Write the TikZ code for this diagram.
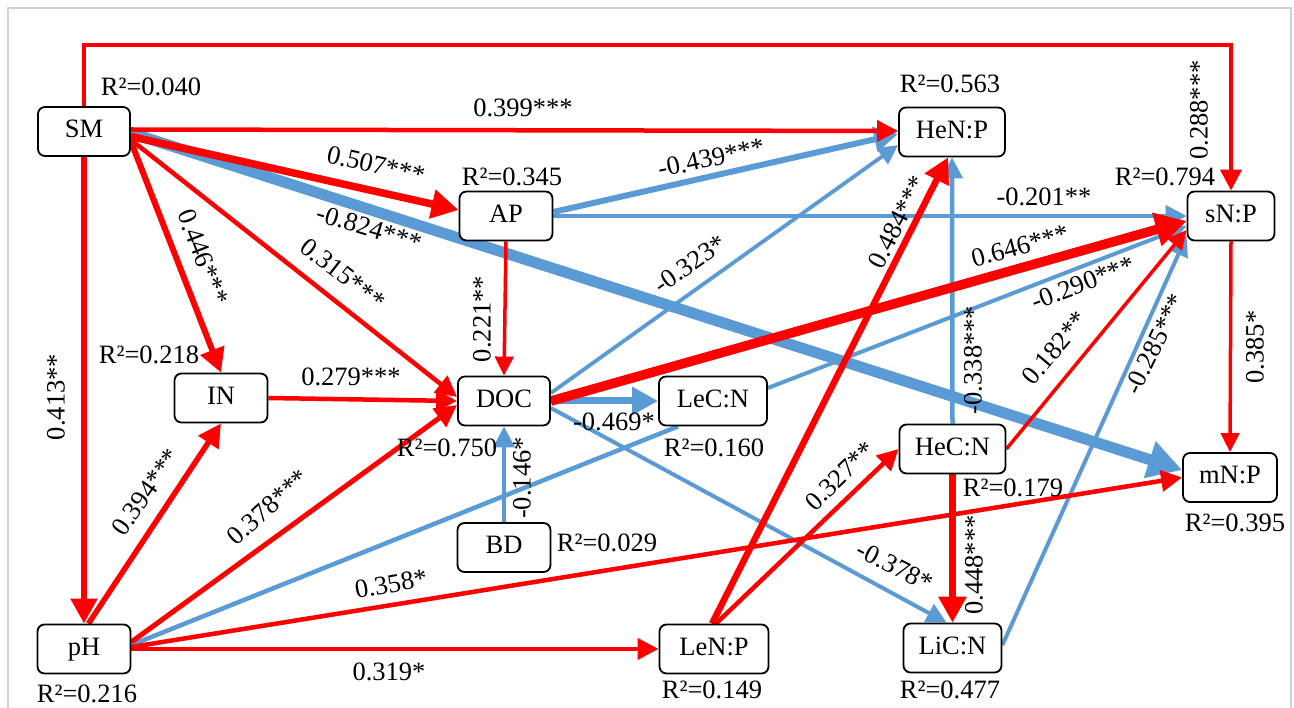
\documentclass[tikz,border=0pt]{standalone}
\usepackage{fontspec}
\setmainfont{Liberation Serif}
\usetikzlibrary{arrows.meta,calc}
\definecolor{pr}{RGB}{255,0,0}
\definecolor{pb}{RGB}{91,155,213}
\definecolor{frm}{RGB}{210,210,210}
\pgfdeclarelayer{bg}
\pgfsetlayers{bg,main}
\begin{document}
\begin{tikzpicture}[x=1pt,y=-1pt,
  font=\fontsize{26.5}{30}\selectfont,
  box/.style={draw=black, line width=1.8pt, rounded corners=7pt, fill=white,
    minimum height=49pt, inner sep=0pt, text height=18pt, text depth=5pt},
  lab/.style={inner sep=0pt},
  tip/.style={-{Triangle[length=12pt 2, width=10pt 2.4]}},
  rl/.style={draw=pr, line width=#1, tip},
  bl/.style={draw=pb, line width=#1, tip},
  bn/.style={draw=pb, line width=#1},
]
\useasboundingbox (0,0) rectangle (1294,708);
\draw[frm, line width=1.2pt] (8,708) -- (8,8) -- (1291,8) -- (1291,708);

% nodes
\node[box, minimum width=92pt]  (SM)   at (84,131.5)  {SM};
\node[box, minimum width=93pt]  (AP)   at (506,216)   {AP};
\node[box, minimum width=106pt] (HeNP) at (952,132)   {HeN:P};
\node[box, minimum width=87pt]  (sNP)  at (1231,216)  {sN:P};
\node[box, minimum width=93pt]  (IN)   at (221,398)   {IN};
\node[box, minimum width=92pt]  (DOC)  at (504,401)   {DOC};
\node[box, minimum width=108pt] (LeCN) at (713,401)   {LeC:N};
\node[box, minimum width=106pt] (HeCN) at (952.5,449) {HeC:N};
\node[box, minimum width=94pt]  (mNP)  at (1230,477.5) {mN:P};
\node[box, minimum width=93pt]  (BD)   at (504,547.5) {BD};
\node[box, minimum width=93pt]  (pH)   at (84,649)    {pH};
\node[box, minimum width=109pt] (LeNP) at (714,649)   {LeN:P};
\node[box, minimum width=98pt]  (LiCN) at (952.5,648) {LiC:N};

\coordinate (topc) at (0,45);

\begin{pgfonlayer}{bg}
% blue connectors
\draw[bl=11pt] ([yshift=-1.5pt]SM.east) -- ([yshift=7.5pt]mNP.west);
\draw[bl=6pt] ([yshift=4pt]AP.east) -- ([yshift=-2pt]HeNP.west);
\draw[bl=4.5pt] (AP.east) -- (sNP.west);
\draw[bl=3.8pt] ([yshift=8pt]DOC.east) -- ([yshift=-13pt]HeNP.west);
\draw[bl=7pt] (DOC.east) -- (LeCN.west);
\draw[bl=4pt] ([yshift=-7pt]DOC.east) -- ([xshift=-6pt]LiCN.north);
\draw[bl=4.5pt] (BD.north) -- (DOC.south);
\draw[bl=4pt] ([yshift=13pt]LeCN.east) -- ([yshift=-10pt]sNP.west);
\draw[bl=4.5pt] (HeCN.north) -- (HeNP.south);
\draw[bl=4pt] ([yshift=3pt]LiCN.east) -- ([yshift=-20pt]sNP.west);
\draw[bn=4.5pt] ([yshift=4pt]pH.east) -- ([xshift=-35pt]LeCN.south);
% red connectors
\draw[rl=4.5pt] (SM.north) -- (SM.north |- topc) -| (sNP.north);
\draw[rl=4.5pt] ([yshift=2pt]SM.east) -- ([yshift=1pt]HeNP.west);
\draw[rl=7.5pt] ([yshift=-5pt]SM.east) -- ([yshift=6pt]AP.west);
\draw[rl=6pt] (SM.-12) -- (IN.north);
\draw[rl=4.5pt] (SM.-10) -- ([yshift=4pt]DOC.west);
\draw[rl=6.5pt] (SM.south) -- (pH.north);
\draw[rl=5.5pt] (pH.80) -- (IN.south);
\draw[rl=5pt] ([yshift=7pt]pH.east) -- ([yshift=-4pt]DOC.west);
\draw[rl=4.5pt] ([yshift=2pt]pH.east) -- (mNP.west);
\draw[rl=4.5pt] (pH.east) -- (LeNP.west);
\draw[rl=3.5pt] (AP.south) -- (DOC.north);
\draw[rl=4.5pt] (IN.east) -- (DOC.west);
\draw[rl=9.5pt] (DOC.east) -- ([yshift=-5pt]sNP.west);
\draw[rl=6.5pt] ([xshift=-2pt]LeNP.north) -- ([xshift=-4pt]HeNP.south);
\draw[rl=4.5pt] ([xshift=2pt]LeNP.north) -- (HeCN.west);
\draw[rl=3.5pt] (HeCN.east) -- ([yshift=-14pt]sNP.west);
\draw[rl=7pt] (HeCN.south) -- (LiCN.north);
\draw[rl=3.5pt] (sNP.south) -- (mNP.north);
\end{pgfonlayer}

% R^2 labels
\node[lab] (SMr)   at (151,87)   {R²=0.040};
\node[lab] (APr)   at (512,177)  {R²=0.345};
\node[lab] (HeNPr) at (950,84)   {R²=0.563};
\node[lab] (sNPr)  at (1165,177) {R²=0.794};
\node[lab] (INr)   at (149,355)  {R²=0.218};
\node[lab] (DOCr)  at (447,448)  {R²=0.750};
\node[lab] (LeCNr) at (714,448)  {R²=0.160};
\node[lab] (HeCNr) at (1013,488) {R²=0.179};
\node[lab] (mNPr)  at (1235,523) {R²=0.395};
\node[lab] (BDr)   at (607,543)  {R²=0.029};
\node[lab] (pHr)   at (87,694)   {R²=0.216};
\node[lab] (LeNPr) at (712,690)  {R²=0.149};
\node[lab] (LiCNr) at (950,690)  {R²=0.477};

% path coefficients
\node[lab, rotate=90]  (l1)  at (1199,110) {0.288***};
\node[lab]             (l2)  at (523,108)  {0.399***};
\node[lab, rotate=-13] (l3)  at (376,165)  {0.507***};
\node[lab, rotate=-17] (l4)  at (369,228)  {-0.824***};
\node[lab, rotate=-69] (l5)  at (203,257)  {0.446***};
\node[lab, rotate=-38] (l6)  at (343,274)  {0.315***};
\node[lab, rotate=90]  (l7)  at (56,397)   {0.413**};
\node[lab, rotate=55]  (l8)  at (146,492)  {0.394***};
\node[lab, rotate=42]  (l9)  at (268,507)  {0.378***};
\node[lab, rotate=10]  (l10) at (391,584)  {0.358*};
\node[lab]             (l11) at (389,672)  {0.319*};
\node[lab, rotate=12]  (l12) at (711,158)  {-0.439***};
\node[lab]             (l13) at (1044,197) {-0.201**};
\node[lab, rotate=90]  (l14) at (482,319)  {0.221**};
\node[lab]             (l15) at (351,377)  {0.279***};
\node[lab, rotate=35]  (l16) at (690,264)  {-0.323*};
\node[lab, rotate=15]  (l17) at (1020,246) {0.646***};
\node[lab]             (l18) at (614,422)  {-0.469*};
\node[lab, rotate=-27] (l19) at (895,566)  {-0.378*};
\node[lab, rotate=90]  (l20) at (522,478)  {-0.146*};
\node[lab, rotate=21]  (l21) at (1083,283) {-0.290***};
\node[lab, rotate=63]  (l22) at (897,222)  {0.484***};
\node[lab, rotate=44]  (l23) at (840,476)  {0.327**};
\node[lab, rotate=90]  (l24) at (973,360)  {-0.338***};
\node[lab, rotate=50]  (l25) at (1055,348) {0.182**};
\node[lab, rotate=90]  (l26) at (974,565)  {0.448***};
\node[lab, rotate=64]  (l27) at (1155,344) {-0.285***};
\node[lab, rotate=90]  (l28) at (1255,347) {0.385*};
\end{tikzpicture}
\end{document}
